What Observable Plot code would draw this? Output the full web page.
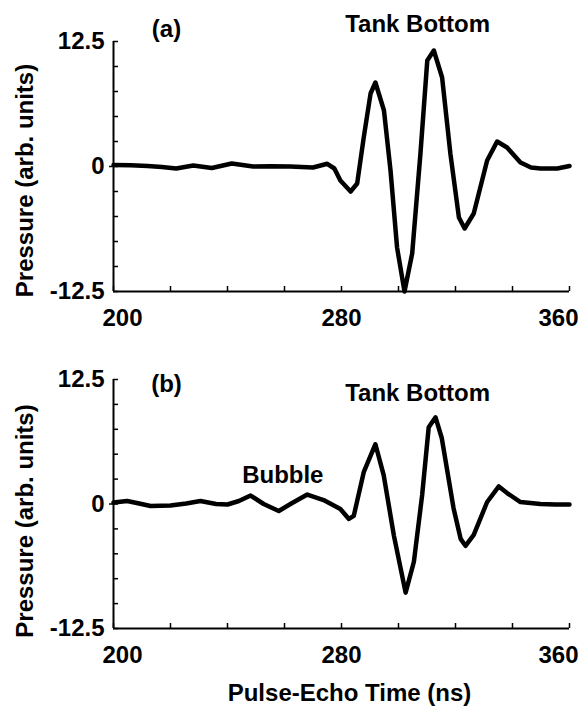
<!DOCTYPE html>
<html>
<head>
<meta charset="utf-8">
<script src="https://cdn.jsdelivr.net/npm/d3@7"></script>
<script src="https://cdn.jsdelivr.net/npm/@observablehq/plot@0.6"></script>
<style>
  body { margin: 0; background: #fff; }
  #chart svg { display: block; }
</style>
</head>
<body>
<div id="chart"></div>
<script>
// ---- data ----
const timeA = [200, 206, 212, 217, 222, 228, 234.5, 241.5, 249, 255, 262, 270, 275, 277.5, 279.6, 283.2, 285.5, 287.8, 290.2, 291.9, 294.9, 297.2, 299.5, 302.1, 304.8, 307.7, 310.1, 312.4, 315.3, 318.2, 321.2, 323.2, 326.4, 331.1, 334.6, 338.1, 342.8, 346.5, 349.8, 355.7, 360];
const pressureA = [0.15, 0.12, 0.05, -0.05, -0.2, 0.1, -0.15, 0.3, 0, 0.03, 0, -0.1, 0.27, -0.2, -1.4, -2.5, -1.7, 2.9, 7.3, 8.4, 5.6, -0.4, -8.1, -12.5, -8.7, 1.3, 10.6, 11.6, 8.9, 1.3, -5.1, -6.2, -4.7, 0.6, 2.5, 1.9, 0.4, -0.1, -0.2, -0.2, 0.05];

const timeB = [200, 204.8, 209, 213, 220, 225.5, 230.5, 236, 240, 244, 248.1, 252.7, 258, 262.7, 268, 273.7, 279.6, 282.6, 284.3, 287.8, 291.9, 294.8, 298.4, 302.5, 305.4, 308.3, 310.6, 313, 315.2, 319.3, 321.8, 323.5, 326.4, 331.1, 335.2, 338.1, 342.8, 349.8, 355, 360];
const pressureB = [0.15, 0.3, 0.05, -0.2, -0.15, 0.05, 0.3, 0, -0.05, 0.3, 0.85, 0, -0.7, 0.1, 0.95, 0.4, -0.5, -1.5, -1.2, 3.2, 6.0, 2.9, -3.2, -8.9, -5.8, 0.9, 7.7, 8.7, 6.6, -0.4, -3.5, -4.2, -3.1, 0.2, 1.76, 1.1, 0.2, 0, -0.05, -0.05];

const xTicks = [200, 220, 240, 260, 280, 300, 320, 340, 360];
const xLabelTicks = [200, 280, 360];
const yTicks = [-12.5, -10, -7.5, -5, -2.5, 0, 2.5, 5, 7.5, 10, 12.5];
const yLabelTicks = [12.5, 0, -12.5];
const yLabelText = ["12.5", "0", "-12.5"];

const notesA = [
  {label: "(a)", t: 218.6, p: 13.7},
  {label: "Tank Bottom", t: 306.7, p: 14.2}
];
const notesB = [
  {label: "(b)", t: 218.6, p: 12.0},
  {label: "Tank Bottom", t: 306.7, p: 11.1},
  {label: "Bubble", t: 259.4, p: 2.9}
];
const yTitle = "Pressure (arb. units)";
const xTitle = "Pulse-Echo Time (ns)";

// ---- drawing ----
const FONT = "'Liberation Sans', Arial, Helvetica, sans-serif";
const xMin = 200, xMax = 360, yMin = -12.5, yMax = 12.5;
const blank = () => "";

function panel({time, pressure, notes, height, marginTop, marginBottom, titleDy, withXTitle}) {
  const data = time.map((t, i) => ({t, p: pressure[i]}));
  const labelAxes = xLabelTicks.map(v => Plot.axisX([v], {
    tickSize: 0, tickPadding: 17, label: null,
    tickFormat: d => String(d),
    fontSize: 24, fontWeight: "bold",
    dx: v === xMin ? 9 : v === xMax ? -11 : 0
  }));
  const marks = [
    Plot.axisX(xTicks, {tickSize: -5, tickFormat: blank, label: null, strokeWidth: 1.5}),
    Plot.axisY(yTicks, {tickSize: -5, tickFormat: blank, label: null, strokeWidth: 1.5}),
    Plot.axisY([0], {tickSize: 4, tickFormat: blank, label: null, strokeWidth: 1.5}),
    ...labelAxes,
    Plot.axisY(yLabelTicks, {
      tickSize: 0, tickPadding: 9, label: null,
      tickFormat: d => yLabelText[yLabelTicks.indexOf(d)],
      fontSize: 24, fontWeight: "bold"
    }),
    Plot.ruleX([xMin], {strokeWidth: 2}),
    Plot.ruleY([yMin], {strokeWidth: 2}),
    Plot.line(data, {x: "t", y: "p", stroke: "#000", strokeWidth: 4.5, strokeLinejoin: "round", strokeLinecap: "round"}),
    Plot.text(notes, {x: "t", y: "p", text: "label", fontSize: 24, fontWeight: "bold", textAnchor: "middle", lineAnchor: "middle"}),
    Plot.text([yTitle], {frameAnchor: "left", rotate: -90, dx: -88, dy: titleDy, textAnchor: "middle", lineAnchor: "middle", fontSize: 24, fontWeight: "bold"})
  ];
  if (withXTitle) {
    marks.push(Plot.text([xTitle], {frameAnchor: "bottom", dx: 8, dy: 65, textAnchor: "middle", lineAnchor: "middle", fontSize: 24, fontWeight: "bold"}));
  }
  return Plot.plot({
    width: 584,
    height,
    marginLeft: 113,
    marginRight: 15,
    marginTop,
    marginBottom,
    style: {fontFamily: FONT, fontSize: "24px", fontWeight: "bold", color: "#000", background: "#fff", overflow: "visible"},
    x: {domain: [xMin, xMax]},
    y: {domain: [yMin, yMax]},
    marks
  });
}

const chart = document.getElementById("chart");
chart.append(panel({time: timeA, pressure: pressureA, notes: notesA, height: 338, marginTop: 41, marginBottom: 47, titleDy: 14, withXTitle: false}));
chart.append(panel({time: timeB, pressure: pressureB, notes: notesB, height: 370, marginTop: 41, marginBottom: 80, titleDy: 17, withXTitle: true}));
</script>
</body>
</html>
